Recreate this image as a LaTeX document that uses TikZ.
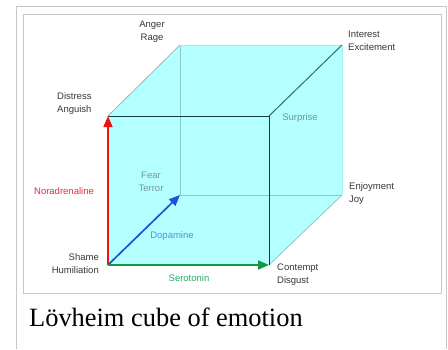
\documentclass[tikz,border=0pt]{standalone}
\usepackage{fontspec}
\setmainfont{Liberation Serif}
\newfontfamily\lblfont{Liberation Sans}
\usetikzlibrary{arrows.meta}
\definecolor{cubefill}{RGB}{180,255,255}
\definecolor{framec}{RGB}{200,200,200}
\definecolor{thumbbg}{RGB}{254,254,254}
\definecolor{edgedark}{RGB}{20,60,60}
\definecolor{edgemid}{RGB}{50,110,110}
\definecolor{edgelight}{RGB}{140,200,200}
\definecolor{edgegrey}{RGB}{150,185,185}
\definecolor{lbl}{RGB}{55,55,55}
\definecolor{surprisec}{RGB}{110,150,150}
\definecolor{fearc}{RGB}{120,150,165}
\definecolor{dopac}{RGB}{70,150,225}
\definecolor{seroc}{RGB}{40,170,100}
\definecolor{norac}{RGB}{235,40,60}
\definecolor{redar}{RGB}{235,20,20}
\definecolor{bluear}{RGB}{30,80,220}
\definecolor{greenar}{RGB}{20,150,70}
\tikzset{
  lab/.style={font=\lblfont\fontsize{9.5bp}{13bp}\selectfont, text=lbl, inner sep=0pt},
  axis/.style={line width=1.7bp, -{Triangle[length=11bp,width=9bp]}},
}
\begin{document}
\begin{tikzpicture}[x=1bp,y=-1bp]
\useasboundingbox (0,0) rectangle (448,349);
\fill[white] (0,0) rectangle (448,349);
\fill[thumbbg] (16,6) rectangle (446,349);
\draw[framec, line width=1bp] (16,349) -- (16,6) -- (446,6) -- (446,349);
\filldraw[fill=white, draw=framec, line width=1bp] (23,14) rectangle (441,293);
% cube vertices
\coordinate (A) at (108,265);
\coordinate (B) at (269,265);
\coordinate (C) at (269,116);
\coordinate (D) at (108,116);
\coordinate (E) at (180,195);
\coordinate (F) at (342,195);
\coordinate (G) at (342,45);
\coordinate (H) at (180,45);
\fill[cubefill] (D) -- (H) -- (G) -- (F) -- (B) -- (A) -- cycle;
% hidden edges
\draw[edgelight, line width=0.8bp] (H) -- (E) -- (F);
\draw[edgelight, line width=0.8bp] (F) -- (B);
\draw[edgegrey, line width=0.8bp] (D) -- (H);
\draw[cubefill!70!edgelight, line width=0.6bp] (H) -- (G) -- (F);
% visible edges
\draw[edgemid, line width=1bp] (C) -- (G);
\draw[edgedark, line width=1bp] (D) -- (C) -- (B);
% axes
\draw[axis, redar] (A) -- (D);
\draw[axis, bluear] (A) -- (E);
\draw[axis, greenar] (A) -- (B);
% labels
\node[lab, align=center] (anger) at (152,32) {Anger\\Rage};
\node[lab, align=left, anchor=west] (interest) at (348,41) {Interest\\Excitement};
\node[lab, align=left, anchor=west] (distress) at (57,104) {Distress\\Anguish};
\node[lab, text=surprisec] (surprise) at (300,118) {Surprise};
\node[lab, align=center, text=fearc] (fear) at (151,182) {Fear\\Terror};
\node[lab, text=norac] (nora) at (64,191) {Noradrenaline};
\node[lab, align=right, anchor=east] (shame) at (99,264) {Shame\\Humiliation};
\node[lab, text=dopac] (dopa) at (172,236) {Dopamine};
\node[lab, text=seroc] (sero) at (189,278) {Serotonin};
\node[lab, align=left, anchor=west] (joy) at (349,194) {Enjoyment\\Joy};
\node[lab, align=left, anchor=west] (contempt) at (277,275) {Contempt\\Disgust};
% caption
\node[anchor=base west, inner sep=0pt, font=\fontsize{26.4bp}{30bp}\selectfont] (cap) at (29,326) {Lövheim cube of emotion};
\end{tikzpicture}
\end{document}
